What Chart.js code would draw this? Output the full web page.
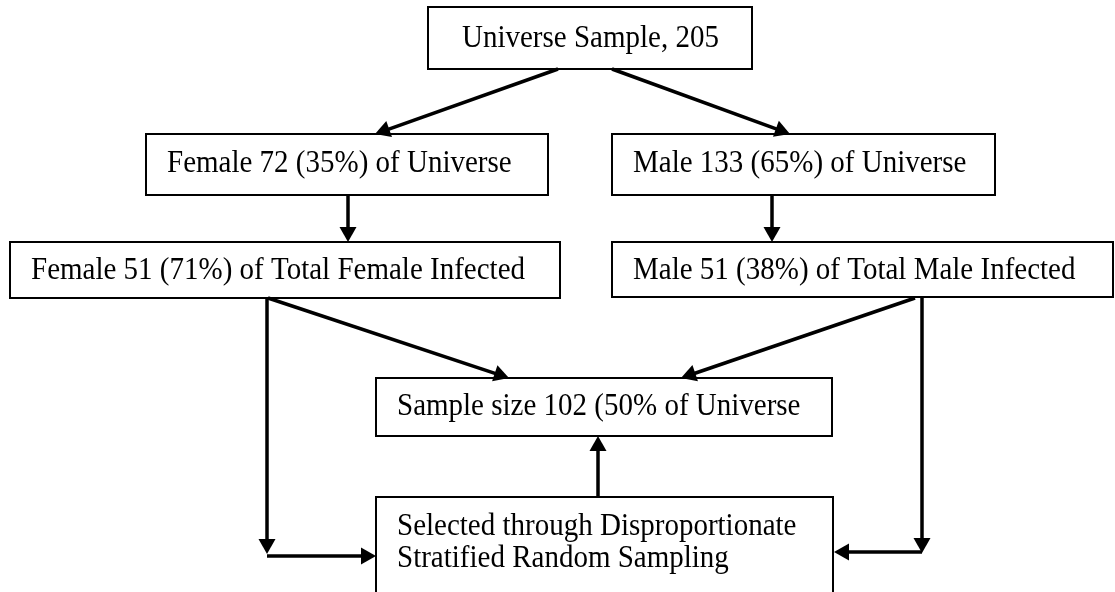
<!DOCTYPE html>
<html>
<head>
<meta charset="utf-8">
<script src="https://cdn.jsdelivr.net/npm/chart.js@4"></script>
<style>
  html, body { margin: 0; padding: 0; background: #ffffff; }
  #wrap { width: 1115px; height: 592px; }
</style>
</head>
<body>
<div id="wrap"><canvas id="flowChart" width="1115" height="592"></canvas></div>
<script>
// Flow of the sample selection

// node texts (one entry per line)
const nodeIds = ['universe', 'female', 'male', 'femaleInf', 'maleInf', 'sample', 'selected'];
const nodeText = [
    ['Universe Sample, 205'],
    ['Female 72 (35%) of Universe'],
    ['Male 133 (65%) of Universe'],
    ['Female 51 (71%) of Total Female Infected'],
    ['Male 51 (38%) of Total Male Infected'],
    ['Sample size 102 (50% of Universe'],
    ['Selected through Disproportionate', 'Stratified Random Sampling']
];

// connections between nodes
const edges = [
    ['universe', 'female'],
    ['universe', 'male'],
    ['female', 'femaleInf'],
    ['male', 'maleInf'],
    ['femaleInf', 'sample'],
    ['maleInf', 'sample'],
    ['femaleInf', 'selected'],
    ['maleInf', 'selected'],
    ['selected', 'sample']
];

// layout (in axis units, 0..1115 across, 0..592 down)
const boxes = {
    universe:  { x: 428, y: 7,   w: 324, h: 62,  tx: 462, base: [47] },
    female:    { x: 146, y: 134, w: 402, h: 61,  tx: 167, base: [172] },
    male:      { x: 612, y: 134, w: 383, h: 61,  tx: 633, base: [172] },
    femaleInf: { x: 10,  y: 242, w: 550, h: 56,  tx: 31,  base: [279] },
    maleInf:   { x: 612, y: 242, w: 501, h: 55,  tx: 633, base: [279] },
    sample:    { x: 376, y: 378, w: 456, h: 58,  tx: 397, base: [415] },
    selected:  { x: 376, y: 497, w: 457, h: 120, tx: 397, base: [535, 567] }
};

// arrow routes for each edge (last segment gets the head)
const routes = {
    'universe>female':    [[[558, 69], [375, 134]]],
    'universe>male':      [[[612, 69], [790, 134]]],
    'female>femaleInf':   [[[348, 195], [348, 242]]],
    'male>maleInf':       [[[772, 195], [772, 242]]],
    'femaleInf>sample':   [[[268, 298], [509, 378]]],
    'maleInf>sample':     [[[915, 298], [681, 378]]],
    'femaleInf>selected': [[[267, 298], [267, 554]], [[267, 556], [376, 556]]],
    'maleInf>selected':   [[[922, 298], [922, 553]], [[922, 552], [834, 552]]],
    'selected>sample':    [[[598, 497], [598, 436]]]
};

const flowPlugin = {
    id: 'flow',
    afterDraw: function(chart) {
        const ctx = chart.ctx;
        const sx = chart.scales.x;
        const sy = chart.scales.y;
        const px = function(v) { return sx.getPixelForValue(v); };
        const py = function(v) { return sy.getPixelForValue(v); };

        ctx.save();

        // boxes + text
        nodeIds.forEach(function(id, i) {
            const b = boxes[id];
            const x0 = px(b.x), y0 = py(b.y);
            const x1 = px(b.x + b.w), y1 = py(b.y + b.h);
            ctx.fillStyle = '#ffffff';
            ctx.fillRect(x0, y0, x1 - x0, y1 - y0);
            ctx.strokeStyle = '#000000';
            ctx.lineWidth = 2;
            ctx.strokeRect(x0, y0, x1 - x0, y1 - y0);

            ctx.fillStyle = '#000000';
            ctx.font = '29px "Liberation Serif", "Times New Roman", serif';
            ctx.textAlign = 'left';
            ctx.textBaseline = 'alphabetic';
            nodeText[i].forEach(function(line, k) {
                // glyphs in the source are a little taller than wide
                ctx.save();
                ctx.translate(px(b.tx), py(b.base[k]));
                ctx.scale(1, 1.07);
                ctx.fillText(line, 0, 0);
                ctx.restore();
            });
        });

        // arrows
        ctx.strokeStyle = '#000000';
        ctx.fillStyle = '#000000';
        ctx.lineCap = 'butt';
        edges.forEach(function(e) {
            const segs = routes[e[0] + '>' + e[1]];
            segs.forEach(function(seg) {
                const ax = px(seg[0][0]), ay = py(seg[0][1]);
                const bx = px(seg[1][0]), by = py(seg[1][1]);
                const ang = Math.atan2(by - ay, bx - ax);
                const headLen = 15, headW = 8.5;
                // shaft stops at the base of the head
                const ex = bx - Math.cos(ang) * headLen;
                const ey = by - Math.sin(ang) * headLen;
                ctx.lineWidth = 3.5;
                ctx.beginPath();
                ctx.moveTo(ax, ay);
                ctx.lineTo(ex + Math.cos(ang), ey + Math.sin(ang));
                ctx.stroke();
                ctx.beginPath();
                ctx.moveTo(bx, by);
                ctx.lineTo(ex - Math.sin(ang) * headW, ey + Math.cos(ang) * headW);
                ctx.lineTo(ex + Math.sin(ang) * headW, ey - Math.cos(ang) * headW);
                ctx.closePath();
                ctx.fill();
            });
        });

        ctx.restore();
    }
};

new Chart(document.getElementById('flowChart').getContext('2d'), {
    type: 'scatter',
    data: {
        datasets: [{
            data: [],
            pointRadius: 0
        }]
    },
    options: {
        responsive: false,
        animation: false,
        layout: { padding: 0 },
        scales: {
            x: { type: 'linear', min: 0, max: 1115, display: false },
            y: { type: 'linear', min: 0, max: 592, reverse: true, display: false }
        },
        plugins: {
            legend: { display: false },
            tooltip: { enabled: false }
        }
    },
    plugins: [flowPlugin]
});
</script>
</body>
</html>
